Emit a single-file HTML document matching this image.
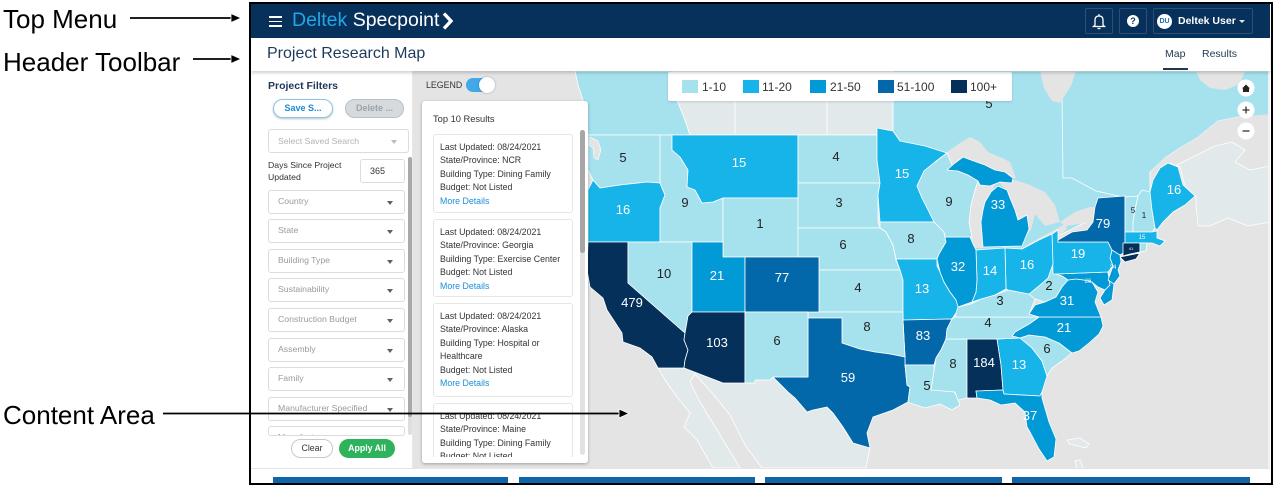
<!DOCTYPE html>
<html style="width:1280px;height:488px;overflow:hidden"><head><meta charset="utf-8">
<style>
*{margin:0;padding:0;box-sizing:border-box}
body{width:1280px;height:488px;overflow:hidden;background:#fff;font-family:"Liberation Sans",Arial,sans-serif;position:relative}
.a{position:absolute}
.ann{position:absolute;font-size:26px;line-height:26px;color:#000;white-space:nowrap}
.dd{position:absolute;left:17px;width:137px;height:23.5px;border:1px solid #dcdcdc;border-radius:3px;background:#fff;font-size:8.7px;color:#9a9a9a;line-height:21.5px;padding-left:9px;white-space:nowrap;overflow:hidden}
.dd:after{content:"";position:absolute;right:11px;top:10px;border-left:3.5px solid transparent;border-right:3.5px solid transparent;border-top:4px solid #606060}
.card{position:absolute;left:11px;width:140px;border:1px solid #e6e6e6;border-radius:3px;background:#fff;padding:6px 0 0 6px;font-size:8.8px;line-height:13.4px;color:#333;white-space:nowrap;overflow:hidden}
.card b{font-weight:normal;color:#1a8fd9}
.c1{fill:#a6e1ee}.c2{fill:#16b4e9}.c3{fill:#0299d7}.c4{fill:#0368aa}.c5{fill:#05305a}.mx{fill:#e2e9eb}.bg{fill:#e4e4e4}
svg polygon{stroke:#fff;stroke-width:.8;stroke-linejoin:round}
.lw{fill:#fff;font-size:13px;text-anchor:middle;font-family:"Liberation Sans",Arial,sans-serif}
.ld{fill:#222;font-size:13px;text-anchor:middle;font-family:"Liberation Sans",Arial,sans-serif}
</style></head><body>

<!-- annotations -->
<div class="ann" style="left:3px;top:6px">Top Menu</div>
<div class="ann" style="left:3px;top:49px">Header Toolbar</div>
<div class="ann" style="left:3px;top:402px">Content Area</div>

<!-- MAP -->
<svg class="a" style="left:0;top:0" width="1280" height="488" viewBox="0 0 1280 488">
<defs><clipPath id="mc"><rect x="413" y="71" width="855" height="397"/></clipPath></defs>
<g clip-path="url(#mc)">
<rect x="413" y="71" width="855" height="397" fill="#e4e4e4"/>
<polygon class="c1" points="575,71 672,71 677,100 685,120 690,135 588,135 587,120 583,100 578,85"/>
<polygon class="mx" points="672,71 893,71 893,135 690,135 685,120 677,100"/>
<line x1="735" y1="95" x2="735" y2="135" stroke="#fff" stroke-width=".8"/>
<line x1="827" y1="95" x2="827" y2="135" stroke="#fff" stroke-width=".8"/>
<polygon class="c1" points="893,71 1270,71 1270,115 1238,117 1218,121 1197,138 1180,148 1165,158 1150,172 1150,200 1100,215 1060,235 1020,252 975,252 950,165 900,141 893,131"/>
<polyline points="1062,96 1063,178 1072,178 1096,191 1123,197" fill="none" stroke="#fff" stroke-width=".8"/>
<polygon class="bg" points="1150,172 1165,158 1180,148 1197,138 1218,121 1238,117 1270,114 1270,150 1250,146 1232,142 1215,146 1195,156 1175,166 1160,174" style="stroke:none"/>
<polygon class="mx" points="1160,174 1175,166 1195,156 1215,146 1232,142 1245,150 1235,162 1250,170 1270,166 1270,222 1248,226 1228,218 1210,226 1198,226 1196,205 1196,197 1185,186 1180,167 1170,163"/>
<polygon class="bg" points="1040,71 1076,71 1071,86 1060,103 1052,101 1044,88" style="stroke:none"/>
<polygon class="bg" points="1196,71 1245,71 1240,84 1225,90 1210,88 1200,80" style="stroke:none"/>
<polygon class="bg" points="935,162 947,152 960,143 970,137 980,142 988,152 1000,157 1010,162 1016,178 1000,178 985,168 960,162 947,168" style="stroke:none"/>
<polygon class="bg" points="968,175 998,180 990,195 983,210 981,222 983,248 970,248 966,220 968,200" style="stroke:none"/>
<polygon class="bg" points="998,182 1015,180 1030,185 1045,192 1055,205 1060,222 1045,226 1035,214 1031,230 1025,236 1018,220 1015,210 1010,198 1007,190" style="stroke:none"/>
<polygon class="bg" points="1018,251 1030,243 1045,235 1058,228 1068,222 1066,230 1056,238 1036,249" style="stroke:none"/>
<polygon class="bg" points="1060,222 1075,212 1090,207 1097,207 1093,220 1080,224 1065,226" style="stroke:none"/>
<polygon class="mx" points="658,368 684,368 723,383 755,383 755,380 770,380 773,377 788,392 795,398 807,412 813,410 827,407 833,413 843,427 853,443 870,448 866,468 762,468 745,445 730,415 712,393 695,374 690,382 700,402 714,425 728,448 740,468 713,468 697,440 684,427 690,413 677,397 667,383"/>
<polygon class="mx" points="1067,440 1080,438 1089,444 1086,448 1070,444"/>
<polygon class="mx" points="1075,461 1080,460 1084,470 1078,472"/>

<!-- states -->
<polygon class="c1" points="588,135 660,135 660,183 647,182 620,185 600,188 593,180 588,170"/>
<polygon class="bg" points="590,137 598,141 601,150 598,160 594,158 593,148 589,145" style="stroke:#fff;stroke-width:.6"/>
<polygon class="c2" points="593,180 600,188 620,185 647,182 660,183 665,195 660,208 660,242 588,242 588,190"/>
<polygon class="c1" points="660,135 672,135 672,150 680,157 688,170 687,187 695,190 702,203 713,202 723,198 723,242 660,242 660,208 665,195 660,183"/>
<polygon class="c2" points="672,135 798,135 798,198 723,198 713,202 702,203 695,190 687,187 688,170 680,157 672,150"/>
<polygon class="c1" points="723,198 798,198 798,257 723,257"/>
<polygon class="c1" points="798,135 877,135 877,160 880,183 798,183"/>
<polygon class="c1" points="798,183 880,183 878,195 878,222 880,228 798,228"/>
<polygon class="c1" points="798,228 880,228 886,232 893,245 896,260 900,270 819,270 819,257 798,257"/>
<polygon class="c2" points="877,135 877,128 893,131 900,141 925,146 947,153 935,162 924,171 917,186 922,198 934,220 934,222 880,222 878,195 880,183 877,160"/>
<polygon class="c1" points="880,222 934,222 944,232 946,242 939,254 937,259 896,259 893,245 886,232 880,228"/>
<polygon class="c1" points="819,270 900,270 903,280 903,312 819,312"/>
<polygon class="c2" points="896,259 937,259 937,266 940,272 944,282 950,292 956,300 960,307 956,313 952,319 903,320 903,280 900,270"/>
<polygon class="c4" points="903,320 952,319 947,329 946,339 941,350 936,358 934,365 905,365 905,357"/>
<polygon class="c1" points="808,312 903,312 903,320 905,357 890,354 875,352 860,349 842,343 842,318 808,318"/>
<polygon class="c4" points="808,318 842,318 842,343 860,349 875,352 890,354 905,357 905,365 907,385 910,387 908,402 893,410 873,417 867,433 870,448 853,443 843,427 833,413 827,407 813,410 807,412 795,398 788,392 773,377 808,377"/>
<polygon class="c1" points="905,365 934,365 934,371 931,390 953,390 956,395 960,405 952,410 940,404 925,408 910,403 908,402 910,387 907,385"/>
<polygon class="c1" points="946,339 967,339 967,398 958,400 955,392 931,390 934,371 936,358 941,350"/>
<polygon class="c5" points="967,339 997,339 1001,365 1003,390 976,391 977,398 970,398 967,398"/>
<polygon class="c2" points="997,339 1020,338 1032,348 1042,361 1047,376 1042,392 1040,396 1004,394 1003,390 1001,365"/>
<polygon class="c3" points="976,391 1003,390 1004,394 1040,396 1042,392 1042,398 1049,422 1056,439 1054,457 1047,461 1039,449 1030,432 1027,427 1025,412 1015,403 1001,405 990,400 977,398"/>
<polygon class="c1" points="1020,338 1029,335 1045,337 1059,343 1072,353 1062,361 1052,368 1047,376 1042,361 1032,348"/>
<polygon class="c3" points="1039,317 1101,317 1103,326 1099,334 1089,343 1079,351 1072,353 1059,343 1045,337 1029,335 1020,338 1012,336 1015,332 1029,324"/>
<polygon class="c1" points="955,317 1039,317 1029,324 1015,332 1012,336 1020,338 997,339 946,339 947,329 952,319"/>
<polygon class="c1" points="958,307 971,304 981,299 995,295 1008,290 1029,294 1035,299 1029,314 1039,317 955,317 956,313"/>
<polygon class="c1" points="1053,264 1056,264 1056,274 1062,276 1068,280 1062,287 1056,297 1045,302 1035,299 1029,294 1040,285 1048,278"/>
<polygon class="c3" points="1029,314 1035,305 1045,302 1056,297 1062,287 1068,280 1076,279 1084,280 1092,282 1098,292 1095,302 1101,317 1039,317"/>
<polygon class="c3" points="1056,274 1108,272 1110,285 1105,290 1098,287 1092,282 1084,280 1076,279 1068,280 1062,276"/>
<polygon class="c3" points="1108,272 1114,284 1112,300 1104,305 1100,298 1105,290 1110,285"/>
<polygon class="c3" points="1112,250 1120,254 1121,262 1118,270 1120,276 1114,284 1108,280 1113,266 1110,258"/>
<polygon class="c2" points="1052,234 1058,230 1058,242 1108,242 1112,250 1110,258 1113,266 1108,272 1056,274 1053,274"/>
<polygon class="c2" points="1005,248 1022,249 1039,240 1052,234 1053,264 1048,278 1040,285 1029,294 1008,290 1006,289"/>
<polygon class="c2" points="976,250 1005,248 1006,289 995,295 981,299 972,302 976,292 977,280"/>
<polygon class="c3" points="945,237 970,237 973,244 976,250 977,280 976,292 972,302 958,307 956,300 950,292 944,282 940,272 937,259 939,254 946,242"/>
<polygon class="c1" points="917,186 924,171 935,162 947,153 952,165 958,171 968,175 978,181 975,190 971,205 969,222 972,237 945,237 944,232 934,222 922,198"/>
<polygon class="c3" points="947,170 955,163 963,157 971,160 985,165 995,170 1005,172 1013,178 1012,183 1000,182 990,186 980,185 978,181 968,175 958,171"/>
<polygon class="c3" points="985,202 991,192 998,186 1007,190 1010,198 1015,210 1018,220 1027,215 1029,229 1022,246 983,247 981,222 983,210"/>
<polygon class="c4" points="1058,242 1058,240 1072,232 1087,230 1093,222 1095,207 1098,198 1125,196 1125,232 1125,252 1120,255 1112,250 1108,242"/>
<polygon class="c1" points="1125,197 1138,196 1135,210 1133,222 1133,232 1125,232"/>
<polygon class="c1" points="1138,196 1142,190 1150,192 1152,210 1155,228 1152,232 1133,232 1133,222 1135,210"/>
<polygon class="c2" points="1150,192 1153,180 1160,168 1168,163 1178,167 1183,185 1195,196 1185,205 1173,212 1163,222 1157,230 1155,228 1152,210"/>
<polygon class="c2" points="1125,232 1152,232 1157,231 1157,238 1165,241 1160,246 1152,243 1125,243"/>
<polygon class="c5" points="1123,243 1140,243 1140,252 1130,254 1123,256"/>
<polygon class="c1" points="1140,243 1147,243 1146,251 1140,252"/>
<polygon class="c5" points="1120,257 1130,255 1140,253 1136,259 1125,262"/>
<polygon class="c5" points="588,242 628,242 628,283 685,333 684,340 688,350 685,360 684,368 658,368 652,357 640,348 623,342 622,333 607,310 603,298 590,287 587,270"/>
<polygon class="c1" points="628,242 692,242 692,312 688,316 685,333 628,283"/>
<polygon class="c3" points="692,242 723,242 723,257 745,257 745,312 692,312"/>
<polygon class="c5" points="692,312 745,312 745,383 723,383 684,368 685,360 688,350 684,340 685,333 688,316"/>
<polygon class="c4" points="745,257 819,257 819,312 745,312"/>
<polygon class="c1" points="745,312 808,312 808,377 773,377 770,380 755,380 755,383 745,383"/>

<!-- labels -->
<text class="ld" x="989" y="108">5</text>
<text class="ld" x="623" y="162">5</text>
<text class="lw" x="623" y="214">16</text>
<text class="ld" x="685" y="207">9</text>
<text class="lw" x="739" y="167">15</text>
<text class="ld" x="760" y="228">1</text>
<text class="ld" x="836" y="161">4</text>
<text class="ld" x="839" y="207">3</text>
<text class="ld" x="843" y="249">6</text>
<text class="lw" x="902" y="178">15</text>
<text class="ld" x="949" y="206">9</text>
<text class="lw" x="998" y="209">33</text>
<text class="ld" x="911" y="243">8</text>
<text class="ld" x="664" y="278">10</text>
<text class="lw" x="717" y="280">21</text>
<text class="lw" x="782" y="282">77</text>
<text class="ld" x="858" y="292">4</text>
<text class="lw" x="922" y="293">13</text>
<text class="lw" x="958" y="271">32</text>
<text class="lw" x="990" y="275">14</text>
<text class="lw" x="1027" y="269">16</text>
<text class="lw" x="1078" y="258">19</text>
<text class="lw" x="1103" y="228">79</text>
<text class="ld" x="1133" y="213" style="font-size:8px">5</text>
<text class="ld" x="1144" y="218" style="font-size:8px">1</text>
<text class="lw" x="1174" y="194">16</text>
<text class="lw" x="1142" y="239" style="font-size:6px">15</text>
<text class="lw" x="1131" y="250" style="font-size:4px">41</text>
<text class="lw" x="1113" y="269" style="font-size:6px">24</text>
<text class="lw" x="1088" y="283" style="font-size:6px">26</text>
<text class="lw" x="632" y="307">479</text>
<text class="lw" x="717" y="347">103</text>
<text class="ld" x="777" y="345">6</text>
<text class="ld" x="867" y="331">8</text>
<text class="lw" x="848" y="382">59</text>
<text class="lw" x="923" y="340">83</text>
<text class="ld" x="927" y="390">5</text>
<text class="ld" x="953" y="368">8</text>
<text class="lw" x="984" y="367">184</text>
<text class="lw" x="1019" y="369">13</text>
<text class="lw" x="1030" y="420">37</text>
<text class="ld" x="1047" y="353">6</text>
<text class="lw" x="1064" y="332">21</text>
<text class="ld" x="988" y="327">4</text>
<text class="ld" x="1000" y="305">3</text>
<text class="ld" x="1049" y="290">2</text>
<text class="lw" x="1067" y="305">31</text>

<!-- map controls -->
<circle cx="1246" cy="88" r="8.5" fill="#fff"/>
<path d="M1242,88.5 L1246,84.5 L1250,88.5 L1249,88.5 L1249,92 L1243,92 L1243,88.5 Z" fill="#222"/>
<circle cx="1246" cy="110" r="8.5" fill="#fff"/>
<path d="M1242.5,110 H1249.5 M1246,106.5 V113.5" stroke="#333" stroke-width="1.3"/>
<circle cx="1246" cy="131" r="8.5" fill="#fff"/>
<path d="M1242.5,131 H1249.5" stroke="#333" stroke-width="1.3"/>
</g>
</svg>

<!-- legend box -->
<div class="a" style="left:668px;top:72px;width:344px;height:29px;background:#fff;border-radius:2px;box-shadow:0 1px 2px rgba(0,0,0,.15)"></div>
<div class="a" style="left:682px;top:80px;width:16px;height:13px;background:#a6e1ee"></div>
<div class="a" style="left:702px;top:80px;font-size:12px;line-height:14px;color:#333">1-10</div>
<div class="a" style="left:743px;top:80px;width:16px;height:13px;background:#16b4e9"></div>
<div class="a" style="left:762px;top:80px;font-size:12px;line-height:14px;color:#333">11-20</div>
<div class="a" style="left:810px;top:80px;width:16px;height:13px;background:#0299d7"></div>
<div class="a" style="left:830px;top:80px;font-size:12px;line-height:14px;color:#333">21-50</div>
<div class="a" style="left:878px;top:80px;width:16px;height:13px;background:#0368aa"></div>
<div class="a" style="left:897px;top:80px;font-size:12px;line-height:14px;color:#333">51-100</div>
<div class="a" style="left:951px;top:80px;width:16px;height:13px;background:#05305a"></div>
<div class="a" style="left:970px;top:80px;font-size:12px;line-height:14px;color:#333">100+</div>

<!-- legend toggle -->
<div class="a" style="left:426px;top:80px;font-size:8.8px;line-height:10px;color:#333">LEGEND</div>
<div class="a" style="left:466px;top:78px;width:28px;height:14px;border-radius:7px;background:#43a8e8"></div>
<div class="a" style="left:479px;top:77px;width:16px;height:16px;border-radius:8px;background:#fff;box-shadow:0 0 2px rgba(0,0,0,.3)"></div>

<!-- top 10 panel -->
<div class="a" style="left:422px;top:101px;width:166px;height:362px;background:#fff;border-radius:3px;box-shadow:0 1px 3px rgba(0,0,0,.3)"></div>
<div class="a" style="left:433px;top:113px;font-size:9.3px;line-height:12px;color:#333">Top 10 Results</div>
<div class="a" style="left:422px;top:128px;width:166px;height:329px;overflow:hidden">
  <div class="card" style="top:6px;height:79px">Last Updated: 08/24/2021<br>State/Province: NCR<br>Building Type: Dining Family<br>Budget: Not Listed<br><b>More Details</b></div>
  <div class="card" style="top:91px;height:78px">Last Updated: 08/24/2021<br>State/Province: Georgia<br>Building Type: Exercise Center<br>Budget: Not Listed<br><b>More Details</b></div>
  <div class="card" style="top:175px;height:94px">Last Updated: 08/24/2021<br>State/Province: Alaska<br>Building Type: Hospital or<br>Healthcare<br>Budget: Not Listed<br><b>More Details</b></div>
  <div class="card" style="top:275px;height:54px;border-bottom:none;border-radius:3px 3px 0 0">Last Updated: 08/24/2021<br>State/Province: Maine<br>Building Type: Dining Family<br>Budget: Not Listed</div>
</div>
<div class="a" style="left:580px;top:130px;width:5px;height:325px;border-radius:3px;background:#e2e2e2"></div>
<div class="a" style="left:580px;top:130px;width:5px;height:123px;border-radius:3px;background:#a6a6a6"></div>

<!-- sidebar -->
<div class="a" style="left:251px;top:71px;width:162px;height:397px;background:#fff;border-right:1px solid #e8e8e8"></div>
<div class="a" style="left:268px;top:80px;font-size:10.5px;line-height:12px;font-weight:bold;color:#1d3559">Project Filters</div>
<div class="a" style="left:273px;top:99px;width:60px;height:19px;border-radius:10px;background:#fff;border:1px solid #8cc4ea;box-shadow:0 1px 2px rgba(0,0,0,.25);font-size:9px;font-weight:bold;color:#1b8ad6;text-align:center;line-height:17px">Save S...</div>
<div class="a" style="left:345px;top:99px;width:59px;height:19px;border-radius:10px;background:#d6dadd;border:1px solid #b3c1cb;font-size:9px;font-weight:bold;color:#9aa3aa;text-align:center;line-height:17px">Delete ...</div>
<div class="a" style="left:251px;top:126px;width:162px;height:310px;overflow:hidden">
 <div class="dd" style="top:3px;width:141px;height:24px;color:#b3b3b3;line-height:22px">Select Saved Search</div>
 <div class="a" style="left:17px;top:33px;font-size:8.7px;line-height:12.3px;color:#333">Days Since Project<br>Updated</div>
 <div class="a" style="left:109px;top:33px;width:45px;height:24px;border:1px solid #dcdcdc;border-radius:3px;font-size:9px;line-height:22px;color:#333;padding-left:9px">365</div>
 <div class="dd" style="top:64px">Country</div>
 <div class="dd" style="top:93px">State</div>
 <div class="dd" style="top:123px">Building Type</div>
 <div class="dd" style="top:152px">Sustainability</div>
 <div class="dd" style="top:182px">Construction Budget</div>
 <div class="dd" style="top:212px">Assembly</div>
 <div class="dd" style="top:241px">Family</div>
 <div class="dd" style="top:271px">Manufacturer Specified</div>
 <div class="dd" style="top:300px;height:10px">Manufacturer</div>
 <div class="a" style="left:157px;top:31px;width:4px;height:278px;border-radius:2px;background:#dedede"></div>
 <div class="a" style="left:157px;top:31px;width:4px;height:260px;border-radius:2px;background:#a9a9a9"></div>
</div>
<style>.dd:first-child:after{border-top-color:#bbb}</style>
<div class="a" style="left:291px;top:439px;width:42px;height:19px;border-radius:10px;background:#fff;border:1px solid #c8c8c8;font-size:8.8px;color:#333;text-align:center;line-height:17px">Clear</div>
<div class="a" style="left:339px;top:439px;width:56px;height:19px;border-radius:10px;background:#2eb35c;font-size:8.8px;font-weight:bold;color:#fff;text-align:center;line-height:19px">Apply All</div>

<!-- bottom strip -->
<div class="a" style="left:251px;top:468px;width:1019px;height:15px;background:#fff;border-top:1px solid #e6e6e6"></div>
<div class="a" style="left:273px;top:477px;width:235px;height:6px;background:#0e65a8"></div>
<div class="a" style="left:519px;top:477px;width:236px;height:6px;background:#0e65a8"></div>
<div class="a" style="left:765px;top:477px;width:237px;height:6px;background:#0e65a8"></div>
<div class="a" style="left:1012px;top:477px;width:238px;height:6px;background:#0e65a8"></div>
<div class="a" style="left:1268px;top:71px;width:2px;height:397px;background:#f2f2f2"></div>

<!-- header toolbar -->
<div class="a" style="left:251px;top:38px;width:1019px;height:33px;background:#fff;box-shadow:0 2px 3px rgba(0,0,0,.18)"></div>
<div class="a" style="left:267px;top:45px;font-size:16px;line-height:18px;color:#1d3a5e">Project Research Map</div>
<div class="a" style="left:1165px;top:48px;font-size:10.5px;line-height:12px;color:#1f3855">Map</div>
<div class="a" style="left:1202px;top:48px;font-size:10.5px;line-height:12px;color:#1f3855">Results</div>
<div class="a" style="left:1163px;top:68px;width:25px;height:2px;background:#22364f"></div>

<!-- top nav -->
<div class="a" style="left:251px;top:3px;width:1019px;height:35px;background:#07305a"></div>
<div class="a" style="left:269px;top:16px;width:13px;height:1.8px;background:#fff"></div>
<div class="a" style="left:269px;top:20.5px;width:13px;height:1.8px;background:#fff"></div>
<div class="a" style="left:269px;top:25px;width:13px;height:1.8px;background:#fff"></div>
<div class="a" style="left:292px;top:9px;font-size:19.5px;line-height:23px;color:#fff;white-space:nowrap"><span style="color:#22a7e6">Deltek</span> Specpoint</div>
<svg class="a" style="left:440px;top:10px" width="16" height="22"><polyline points="4,3.5 11,11 4,18.5" fill="none" stroke="#fff" stroke-width="3.4"/></svg>
<div class="a" style="left:1085px;top:8px;width:28px;height:26px;border:1px solid #2d4f77;border-radius:2px"></div>
<svg class="a" style="left:1085px;top:8px" width="28" height="26"><path d="M10,17 L10,12 Q10,8 14,8 Q18,8 18,12 L18,17 L19.5,18.5 L8.5,18.5 Z" fill="none" stroke="#fff" stroke-width="1.3"/><path d="M12.5,20.5 H15.5" stroke="#fff" stroke-width="1.3"/><path d="M14,6 V8" stroke="#fff" stroke-width="1.2"/></svg>
<div class="a" style="left:1119px;top:8px;width:28px;height:26px;border:1px solid #2d4f77;border-radius:2px"></div>
<div class="a" style="left:1127px;top:15px;width:12px;height:12px;border-radius:6px;background:#fff;color:#07305a;font-size:9px;font-weight:bold;text-align:center;line-height:12px">?</div>
<div class="a" style="left:1153px;top:8px;width:100px;height:26px;border:1px solid #2d4f77;border-radius:2px"></div>
<div class="a" style="left:1157px;top:13.5px;width:15px;height:15px;border-radius:8px;background:#fff;color:#1b6fb5;font-size:7px;font-weight:bold;text-align:center;line-height:15px">DU</div>
<div class="a" style="left:1178px;top:15px;font-size:10.5px;font-weight:bold;line-height:12px;color:#fff;white-space:nowrap">Deltek User</div>
<div class="a" style="left:1239px;top:20px;border-left:3px solid transparent;border-right:3px solid transparent;border-top:3.5px solid #dfe6ee"></div>

<!-- frame -->
<div class="a" style="left:249px;top:2px;width:1024px;height:483px;border:2px solid #000"></div>

<!-- arrows -->
<svg class="a" style="left:0;top:0" width="1280" height="488">
<line x1="130" y1="18" x2="233" y2="18" stroke="#000" stroke-width="1.8"/>
<polygon points="231,13.5 241,18 231,22.5" fill="#000"/>
<line x1="193" y1="59" x2="233" y2="59" stroke="#000" stroke-width="1.8"/>
<polygon points="231,54.5 241,59 231,63.5" fill="#000"/>
<line x1="163" y1="413.5" x2="621" y2="413.5" stroke="#000" stroke-width="1.8"/>
<polygon points="619,409 629,413.5 619,418" fill="#000"/>
</svg>
</body></html>
